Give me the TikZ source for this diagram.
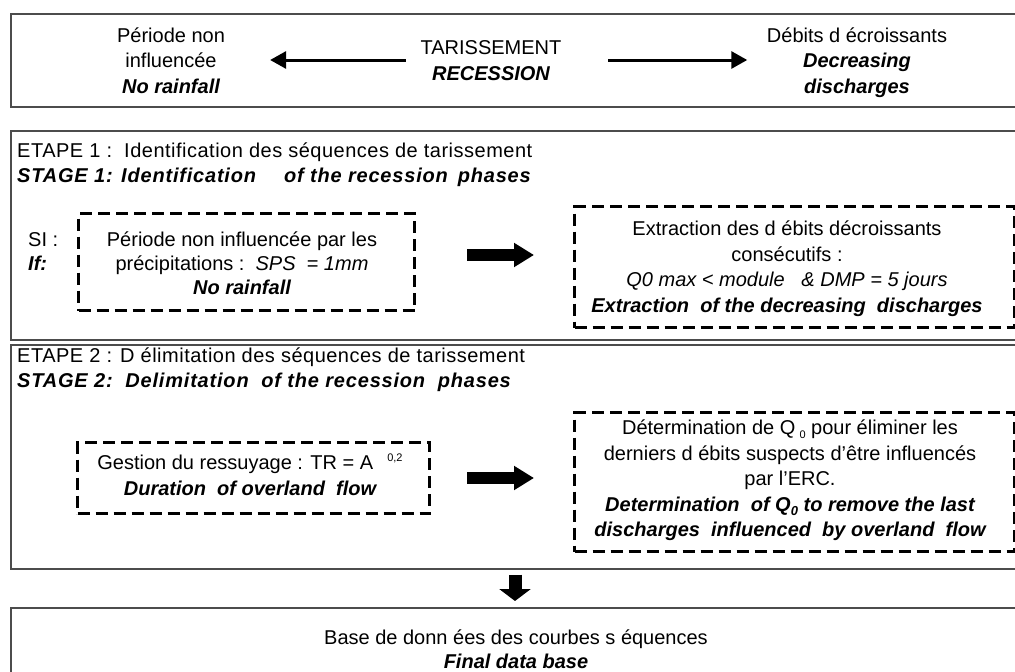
\documentclass[tikz,border=0pt]{standalone}
\usepackage{fontspec}
\setmainfont{Liberation Sans}
\usetikzlibrary{arrows.meta}
\begin{document}
\begin{tikzpicture}[x=1pt,y=-1pt,
  font=\fontsize{20}{25.5}\selectfont,
  outerbox/.style={draw=black!70, line width=1.6pt, rectangle, inner sep=0pt, anchor=north west},
  dashbox/.style={draw=black, line width=3pt, dash pattern=on 12pt off 6pt, rectangle, inner sep=0pt, anchor=north west},
  txt/.style={align=center, inner sep=0pt, anchor=base},
  lbl/.style={align=left, inner sep=0pt, anchor=base west},
  bi/.style={font=\fontsize{20}{25.5}\selectfont\bfseries\itshape},
  thinarrow/.style={line width=3pt, -{Triangle[length=16pt,width=17pt]}},
  fatarrow/.style={line width=12pt, -{Triangle[length=20pt,width=23pt]}},
  downarrow/.style={line width=13pt, -{Triangle[length=12pt,width=31pt]}}
]
\useasboundingbox (0,0) rectangle (1015,672);
\fill[white] (0,0) rectangle (1015,672);
\clip (0,0) rectangle (1015,672);

% outer boxes
\node[outerbox, minimum width=1010pt, minimum height=93pt] (b1) at (10,13) {};
\node[outerbox, minimum width=1010pt, minimum height=209pt] (b2) at (10,130) {};
\node[outerbox, minimum width=1010pt, minimum height=224pt] (b3) at (10,344) {};
\node[outerbox, minimum width=1010pt, minimum height=80pt] (b4) at (10,607) {};

% top box (anchor base = last line baseline)
\node[txt] (tleft) at (171,93) {Période non\\influencée\\{\bfseries\itshape No rainfall}};
\node[txt] (tmid) at (491,80) {TARISSEMENT\\{\bfseries\itshape RECESSION}};
\node[txt] (tright) at (857,93) {Débits d écroissants\\{\bfseries\itshape Decreasing}\\{\bfseries\itshape discharges}};
\coordinate (ay) at (0,60);
\draw[thinarrow, shorten <=14.5pt, shorten >=45pt] (tmid.west |- ay) -- (tleft.east |- ay);
\draw[thinarrow, shorten <=46.5pt, shorten >=19.5pt] (tmid.east |- ay) -- (tright.west |- ay);

% stage 1
\node[lbl] (e1) at (17,157) {\addfontfeature{LetterSpace=2.5}ETAPE 1 :\ \ Identification des séquences de tarissement};
\node[lbl, bi] (s1) at (17,182) {\addfontfeature{LetterSpace=4}STAGE 1: Identification\hspace{28pt}of the recession\hspace{10pt}phases};
\node[lbl] (si) at (28,246) {SI :};
\node[lbl, bi] (iff) at (28,270) {If:};
\node[dashbox, minimum width=336pt, minimum height=97pt] (d1) at (77,212) {};
\node[dashbox, minimum width=440pt, minimum height=121pt] (d2) at (573,205) {};
\node[txt, font=\fontsize{20}{24}\selectfont] (d1t) at (242,294) {Période non influencée par les\\précipitations :\ \ \textit{SPS\ \ = 1mm}\\{\bfseries\itshape No rainfall}};
\node[txt] (d2t) at (787,312) {Extraction des d ébits décroissants\\consécutifs :\\\textit{Q0 max < module\ \ \ \& DMP = 5 jours}\\{\bfseries\itshape Extraction\ \ of the decreasing\ \ discharges}};
\coordinate (a1y) at (0,255);
\draw[fatarrow, shorten <=51pt, shorten >=39pt] (d1.east |- a1y) -- (d2.west |- a1y);

% stage 2
\node[lbl] (e2) at (17,362) {\addfontfeature{LetterSpace=2.5}ETAPE 2 : D élimitation des séquences de tarissement};
\node[lbl, bi] (s2) at (17,387) {\addfontfeature{LetterSpace=4}STAGE 2:\ \ Delimitation\ \ of the recession\ \ phases};
\node[dashbox, minimum width=352pt, minimum height=71pt] (d3) at (76,441) {};
\node[dashbox, minimum width=440pt, minimum height=139pt] (d4) at (573,411) {};
\node[txt] (d3t) at (250,495) {Gestion du ressuyage : TR = A\hspace{14pt}\raisebox{8pt}{\fontsize{11}{13}\selectfont 0,2}\\{\bfseries\itshape Duration\ \ of overland\ \ flow}};
\node[txt] (d4t) at (790,536.5) {Détermination de Q\hspace{4pt}\raisebox{-4pt}{\fontsize{11}{13}\selectfont 0} pour éliminer les\\derniers d ébits suspects d’être influencés\\par l’ERC.\\{\bfseries\itshape Determination\ \ of Q\raisebox{-4pt}{\fontsize{13}{15}\selectfont 0} to remove the last}\\{\bfseries\itshape discharges\ \ influenced\ \ by overland\ \ flow}};
\coordinate (a2y) at (0,478);
\draw[fatarrow, shorten <=36pt, shorten >=39pt] (d3.east |- a2y) -- (d4.west |- a2y);

% down arrow and final box
\coordinate (dnx) at (515,0);
\draw[downarrow, shorten <=5pt, shorten >=6pt] (b3.south -| dnx) -- (b4.north -| dnx);
\node[txt, font=\fontsize{20}{24}\selectfont] (fin) at (516,668) {Base de donn ées des courbes s équences\\{\bfseries\itshape Final data base}};
\end{tikzpicture}
\end{document}
